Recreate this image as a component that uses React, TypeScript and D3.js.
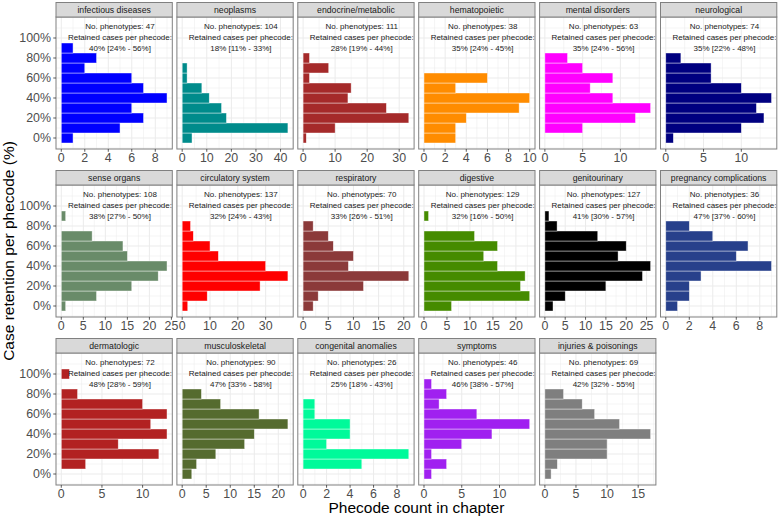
import React from "react";
import * as d3 from "d3";

// ---- data ----
const chapters = [
  "infectious diseases", "neoplasms", "endocrine/metabolic", "hematopoietic", "mental disorders", "neurological",
  "sense organs", "circulatory system", "respiratory", "digestive", "genitourinary", "pregnancy complications",
  "dermatologic", "musculoskeletal", "congenital anomalies", "symptoms", "injuries & poisonings",
];
const binCentres = [0, 0.1, 0.2, 0.3, 0.4, 0.5, 0.6, 0.7, 0.8, 0.9, 1.0];
// counts per retention bin (0%,10%,...,100%)
const infectiousCounts = [1, 5, 7, 6, 9, 7, 6, 2, 3, 1, 0];
const neoplasmsCounts = [4, 43, 18, 16, 11, 8, 2, 2, 0, 0, 0];
const endocrineCounts = [1, 10, 33, 26, 14, 15, 2, 8, 2, 0, 0];
const hematopoieticCounts = [3, 3, 4, 9, 10, 3, 6, 0, 0, 0, 0];
const mentalCounts = [0, 5, 12, 14, 9, 6, 9, 5, 3, 0, 0];
const neurologicalCounts = [1, 10, 13, 12, 14, 10, 6, 6, 2, 0, 0];
const senseCounts = [1, 8, 16, 22, 24, 15, 14, 7, 0, 1, 0];
const circulatoryCounts = [2, 9, 28, 38, 30, 13, 10, 4, 3, 0, 0];
const respiratoryCounts = [2, 3, 12, 21, 9, 10, 6, 5, 2, 0, 0];
const digestiveCounts = [6, 23, 21, 22, 16, 13, 16, 11, 0, 1, 0];
const genitourinaryCounts = [2, 5, 15, 24, 26, 18, 20, 13, 3, 1, 0];
const pregnancyCounts = [1, 2, 2, 3, 9, 6, 7, 4, 2, 0, 0];
const dermatologicCounts = [0, 3, 12, 7, 13, 11, 13, 10, 2, 0, 1];
const musculoskeletalCounts = [2, 3, 7, 13, 15, 22, 16, 8, 4, 0, 0];
const congenitalCounts = [0, 5, 9, 2, 4, 4, 1, 1, 0, 0, 0];
const symptomsCounts = [1, 3, 1, 5, 9, 14, 7, 2, 3, 1, 0];
const injuriesCounts = [1, 2, 10, 10, 17, 12, 8, 6, 3, 0, 0];
const allCounts = [
  infectiousCounts, neoplasmsCounts, endocrineCounts, hematopoieticCounts, mentalCounts, neurologicalCounts,
  senseCounts, circulatoryCounts, respiratoryCounts, digestiveCounts, genitourinaryCounts, pregnancyCounts,
  dermatologicCounts, musculoskeletalCounts, congenitalCounts, symptomsCounts, injuriesCounts,
];
const nPhenotypes = [47, 104, 111, 38, 63, 74, 108, 137, 70, 129, 127, 36, 72, 90, 26, 46, 69];
const medians = [40, 18, 28, 35, 35, 35, 38, 32, 33, 32, 41, 47, 48, 47, 25, 46, 42];
const q1s = [24, 11, 19, 24, 24, 22, 27, 24, 26, 16, 30, 37, 28, 33, 18, 38, 32];
const q3s = [56, 33, 44, 45, 56, 48, 50, 43, 51, 50, 57, 60, 59, 58, 43, 57, 55];
const colors = [
  "#0000FF", "#008B8B", "#A52A2A", "#FF8C00", "#FF00FF", "#000080",
  "#698B69", "#FF0000", "#8B3A3A", "#458B00", "#000000", "#27408B",
  "#B22222", "#556B2F", "#00FA9A", "#A020F0", "#7F7F7F",
];
const xTicks = [
  [0, 2, 4, 6, 8], [0, 10, 20, 30, 40], [0, 10, 20, 30], [0, 2, 4, 6, 8, 10], [0, 5, 10], [0, 5, 10],
  [0, 5, 10, 15, 20, 25], [0, 10, 20, 30], [0, 5, 10, 15, 20], [0, 5, 10, 15, 20], [0, 5, 10, 15, 20, 25], [0, 2, 4, 6, 8],
  [0, 5, 10], [0, 5, 10, 15, 20], [0, 2, 4, 6, 8], [0, 5, 10], [0, 5, 10, 15],
];
const yTicks = [0, 0.2, 0.4, 0.6, 0.8, 1.0];
const yMinor = [-0.1, 0.1, 0.3, 0.5, 0.7, 0.9, 1.1];

// ---- layout ----
const W = 780, H = 518;
const left = 56, colPitch = 120.9, panelW = 116.3;
const top0 = 2.5, stripH = 14.5, panelH = 132, rowPitch = 168;
const nCols = 6;
const gridCol = "#ebebeb";
const borderCol = "#808080";
const tickTextCol = "#4d4d4d";
const font = "Liberation Sans, Arial, Helvetica, sans-serif";

function Panel({ i }: { i: number }) {
  const col = i % nCols, row = Math.floor(i / nCols);
  const x0 = left + col * colPitch;
  const stripTop = top0 + row * rowPitch;
  const y0 = stripTop + stripH;
  const counts = allCounts[i];
  const maxC = d3.max(counts) as number;
  const x = d3.scaleLinear().domain([-0.05 * maxC, 1.05 * maxC]).range([x0, x0 + panelW]);
  const y = d3.scaleLinear().domain([-0.11, 1.21]).range([y0 + panelH, y0]);
  const ticks = xTicks[i];
  const step = ticks[1] - ticks[0];
  const minor: number[] = [];
  for (let t = ticks[0] - step / 2; t <= ticks[ticks.length - 1] + step; t += step) {
    if (t >= x.domain()[0] && t <= x.domain()[1]) minor.push(t);
  }
  const clipId = `clip${i}`;
  const tx = x(0.555 * maxC);
  const isLeft = col === 0;
  return (
    <g>
      <defs>
        <clipPath id={clipId}>
          <rect x={x0} y={y0} width={panelW} height={panelH} />
        </clipPath>
      </defs>
      <rect x={x0} y={y0} width={panelW} height={panelH} fill="#fff" />
      <g clipPath={`url(#${clipId})`}>
        {yMinor.map((v) => (
          <line key={"ym" + v} x1={x0} x2={x0 + panelW} y1={y(v)} y2={y(v)} stroke={gridCol} strokeWidth={0.5} />
        ))}
        {minor.map((v) => (
          <line key={"xm" + v} x1={x(v)} x2={x(v)} y1={y0} y2={y0 + panelH} stroke={gridCol} strokeWidth={0.5} />
        ))}
        {yTicks.map((v) => (
          <line key={"y" + v} x1={x0} x2={x0 + panelW} y1={y(v)} y2={y(v)} stroke={gridCol} strokeWidth={1} />
        ))}
        {ticks.map((v) => (
          <line key={"x" + v} x1={x(v)} x2={x(v)} y1={y0} y2={y0 + panelH} stroke={gridCol} strokeWidth={1} />
        ))}
        {counts.map((c, k) =>
          c > 0 ? (
            <rect
              key={"b" + k}
              x={x(0)}
              y={y(binCentres[k] + 0.05)}
              width={x(c) - x(0)}
              height={y(binCentres[k] - 0.05) - y(binCentres[k] + 0.05)}
              fill={colors[i]}
              stroke="#ffffff"
              strokeOpacity={0.7}
              strokeWidth={0.6}
            />
          ) : null
        )}
        <text x={tx} textAnchor="middle" fontFamily={font} fontSize={8} fill="#1a1a1a">
          <tspan x={tx} y={y0 + 11.5}>{`No. phenotypes: ${nPhenotypes[i]}`}</tspan>
          <tspan x={tx} y={y0 + 22.5}>Retained cases per phecode:</tspan>
          <tspan x={tx} y={y0 + 33.5}>{`${medians[i]}% [${q1s[i]}% - ${q3s[i]}%]`}</tspan>
        </text>
      </g>
      <rect x={x0} y={y0} width={panelW} height={panelH} fill="none" stroke={borderCol} strokeWidth={1} />
      {/* strip */}
      <rect x={x0} y={stripTop} width={panelW} height={stripH} fill="#d9d9d9" stroke={borderCol} strokeWidth={1} />
      <text x={x0 + panelW / 2} y={stripTop + stripH / 2} dy="0.35em" textAnchor="middle" fontFamily={font} fontSize={8.7} fill="#1a1a1a">
        {chapters[i]}
      </text>
      {/* x axis */}
      {ticks.map((v) => (
        <g key={"xt" + v}>
          <line x1={x(v)} x2={x(v)} y1={y0 + panelH} y2={y0 + panelH + 2.75} stroke="#333" strokeWidth={0.8} />
          <text x={x(v)} y={y0 + panelH + 13} textAnchor="middle" fontFamily={font} fontSize={12.4} fill={tickTextCol}>
            {v}
          </text>
        </g>
      ))}
      {/* y axis */}
      {isLeft &&
        yTicks.map((v) => (
          <g key={"yt" + v}>
            <line x1={x0 - 2.75} x2={x0} y1={y(v)} y2={y(v)} stroke="#333" strokeWidth={0.8} />
            <text x={x0 - 5} y={y(v)} dy="0.35em" textAnchor="end" fontFamily={font} fontSize={12.4} fill={tickTextCol}>
              {d3.format(".0%")(v)}
            </text>
          </g>
        ))}
    </g>
  );
}

export default function App() {
  const plotLeft = left;
  const plotRight = left + 5 * colPitch + panelW;
  const plotTop = top0 + stripH;
  const plotBottom = top0 + 2 * rowPitch + stripH + panelH;
  return (
    <svg width={W} height={H} style={{ position: "absolute", left: 0, top: 0, background: "#fff" }}>
      <rect x={0} y={0} width={W} height={H} fill="#fff" />
      {chapters.map((_, i) => (
        <Panel key={i} i={i} />
      ))}
      <text
        x={(plotLeft + plotRight) / 2}
        y={513}
        textAnchor="middle"
        fontFamily={font}
        fontSize={15.5}
        fill="#000"
      >
        Phecode count in chapter
      </text>
      <text
        transform={`translate(13.5, ${(plotTop + plotBottom) / 2}) rotate(-90)`}
        textAnchor="middle"
        fontFamily={font}
        fontSize={15.5}
        fill="#000"
      >
        Case retention per phecode (%)
      </text>
    </svg>
  );
}
